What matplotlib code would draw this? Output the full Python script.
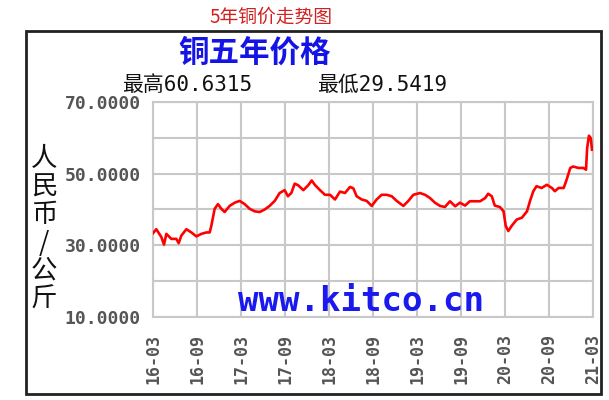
import numpy as np
import matplotlib.pyplot as plt
from matplotlib.patches import Rectangle

plt.rcParams['font.family'] = ['Noto Sans CJK SC', 'DejaVu Sans']

# months since 2016-03, and copper price (yuan / kg)
months = [0.0, 0.45, 1.14, 1.5, 1.82, 2.5, 3.18, 3.5, 3.86, 4.55, 5.23, 5.91, 6.6,
          7.27, 7.73, 7.95, 8.41, 8.86, 9.32, 9.77, 10.45, 11.14, 11.82, 12.5,
          13.18, 13.86, 14.55, 15.23, 15.9, 16.6, 17.27, 17.95, 18.4, 18.86,
          19.32, 19.77, 20.5, 21.18, 21.64, 22.1, 22.77, 23.45, 24.14, 24.82,
          25.5, 26.18, 26.86, 27.32, 27.77, 28.45, 29.14, 29.82, 30.5, 31.18,
          31.86, 32.55, 33.23, 34.14, 34.82, 35.5, 36.4, 37.1, 37.77, 38.45,
          39.14, 39.8, 40.5, 41.2, 41.86, 42.55, 43.2, 43.9, 44.6, 45.3, 45.7,
          46.2, 46.6, 47.3, 47.8, 48.1, 48.45, 48.9, 49.6, 50.3, 51.0, 51.4,
          51.86, 52.3, 53.0, 53.7, 54.4, 54.8, 55.3, 56.0, 56.4, 56.9, 57.3,
          58.0, 58.7, 59.05, 59.2, 59.45, 59.7, 59.86]
price = [33.4, 34.5, 32.3, 30.2, 33.2, 31.8, 31.8, 30.6, 32.7, 34.5, 33.6, 32.5, 33.2,
         33.6, 33.6, 35.4, 40.2, 41.5, 40.2, 39.3, 41.0, 41.9, 42.4, 41.5,
         40.2, 39.5, 39.3, 40.0, 41.0, 42.4, 44.6, 45.4, 43.7, 44.6,
         47.2, 46.8, 45.4, 46.8, 48.1, 46.8, 45.4, 44.1, 44.1, 42.8,
         45.0, 44.6, 46.3, 45.9, 43.7, 42.8, 42.4, 41.0, 42.8, 44.1,
         44.1, 43.7, 42.4, 41.0, 42.4, 44.1, 44.6, 44.1, 43.2, 41.9,
         41.0, 40.7, 42.3, 40.9, 41.9, 41.1, 42.3, 42.3, 42.3, 43.2, 44.4,
         43.7, 41.1, 40.7, 39.5, 35.4, 34.0, 35.4, 37.2, 37.7, 39.5, 42.3,
         45.1, 46.5, 46.0, 46.9, 46.0, 45.1, 46.0, 46.0, 48.3, 51.6, 52.0,
         51.6, 51.6, 51.1, 57.1, 60.6, 59.9, 56.7]

xtick_pos = [0, 6, 12, 18, 24, 30, 36, 42, 48, 54, 60]
xtick_labels = ['16-03', '16-09', '17-03', '17-09', '18-03', '18-09',
                '19-03', '19-09', '20-03', '20-09', '21-03']
ytick_pos = [10, 20, 30, 40, 50, 60, 70]
ytick_labels = ['10.0000', '', '30.0000', '', '50.0000', '', '70.0000']

W, H = 609, 400
fig = plt.figure(figsize=(W / 100, H / 100), dpi=100)


def fx(px):
    return px / W


def fy(py):
    return 1 - py / H


# outer frame
fig.patches.append(Rectangle((fx(26), fy(394)), fx(601) - fx(26), fy(31) - fy(394),
                             transform=fig.transFigure, fill=False,
                             edgecolor='#222222', linewidth=2))

ax = fig.add_axes([fx(153), fy(317), fx(593) - fx(153), fy(102) - fy(317)])
ax.plot(months, price, color='#ff0000', linewidth=1.9, zorder=3)

ax.set_xlim(0, 60)
ax.set_ylim(10, 70)
ax.set_xticks(xtick_pos)
ax.set_xticklabels(xtick_labels, rotation=90, family='DejaVu Sans Mono',
                   fontweight='bold', fontsize=12, color='#555555')
ax.set_yticks(ytick_pos)
ax.set_yticklabels(ytick_labels, family='DejaVu Sans Mono',
                   fontweight='bold', fontsize=13, color='#555555')
ax.tick_params(axis='y', length=0, pad=9)
ax.tick_params(axis='x', length=0, pad=12)
ax.grid(True, color='#c8c8c8', linewidth=1.5)
for s in ax.spines.values():
    s.set_color('#c8c8c8')
    s.set_linewidth(1.5)

# watermark inside plot
ax.text(0.473, 0.07, 'www.kitco.cn', transform=ax.transAxes, ha='center', va='center',
        family='DejaVu Sans Mono', fontweight='bold', fontsize=24.5, color='#1a1aee')

# titles
fig.text(fx(271), fy(17), '5年铜价走势图', ha='center', va='center',
         fontsize=13.5, color='#d02020')
fig.text(fx(255), fy(53), '铜五年价格', ha='center', va='center',
         fontsize=22, fontweight='bold', color='#1414e6')
fig.text(fx(122), fy(85), '最高60.6315', ha='left', va='center',
         family=['DejaVu Sans Mono', 'Noto Sans CJK SC'], fontsize=15, color='#111111')
fig.text(fx(317), fy(85), '最低29.5419', ha='left', va='center',
         family=['DejaVu Sans Mono', 'Noto Sans CJK SC'], fontsize=15, color='#111111')

# stacked y label
fig.text(fx(44), fy(229), '\n'.join('人民币/公斤'), ha='center', va='center',
         fontsize=19, color='#111111', linespacing=1.05)

plt.savefig('out.png', dpi=100)
